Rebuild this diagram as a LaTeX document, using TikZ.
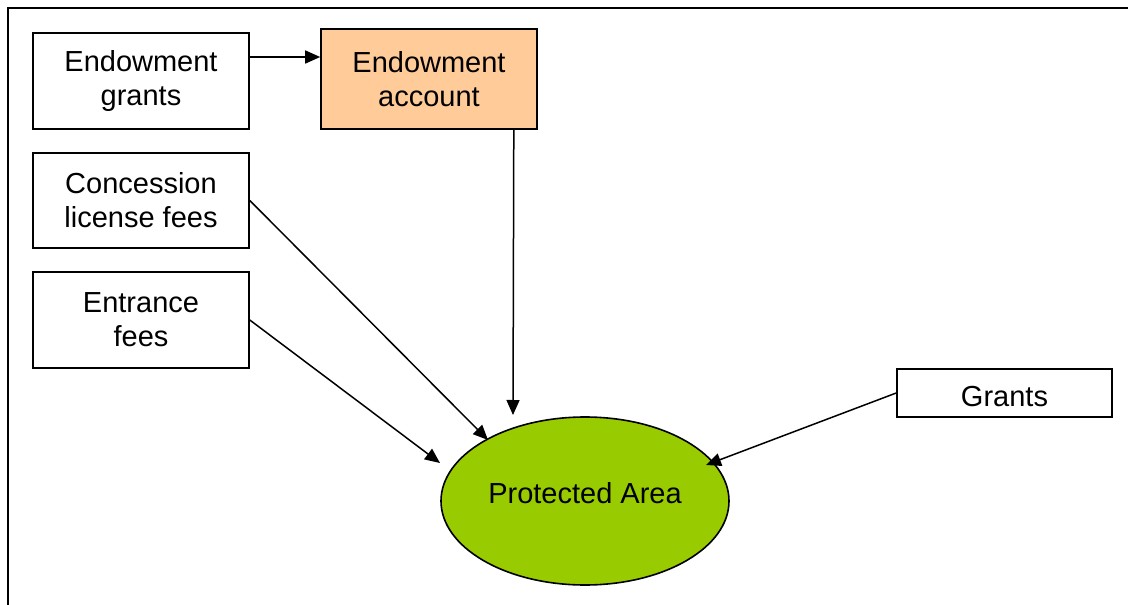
\documentclass[tikz,border=0pt]{standalone}
\usepackage{fontspec}
\setmainfont{Liberation Sans}
\usetikzlibrary{arrows.meta,shapes.geometric}
\begin{document}
\begin{tikzpicture}[x=1pt,y=-1pt,
  every node/.style={font=\fontsize{29}{34}\selectfont, align=center},
  srcbox/.style={draw=black, line width=1.6pt, fill=white, inner sep=0pt,
                 minimum width=216pt, minimum height=96pt},
  accbox/.style={srcbox, fill=accfill, minimum height=100pt},
  areanode/.style={ellipse, draw=black, line width=1.6pt, fill=areafill,
                   inner sep=0pt, minimum width=288pt, minimum height=168pt},
  arr/.style={line width=1.5pt, -{Triangle[length=15pt,width=13pt]}},
  frame/.style={line width=2.6pt}]
  \definecolor{accfill}{HTML}{FFCC99}
  \definecolor{areafill}{HTML}{99CC00}
  \useasboundingbox (0,0) rectangle (1128,605);
  % outer frame: top and left edges
  \draw[frame] (8,605) -- (8,8) -- (1128,8);

  % sources
  \node[srcbox] (eg)   at (141,81)  {Endowment\\grants};
  \node[accbox] (acc)  at (429,79)  {Endowment\\account};
  \node[srcbox, minimum height=95pt] (conc) at (141,200.5) {Concession\\license fees};
  \node[srcbox] (ent)  at (141,320) {Entrance\\fees};
  \node[srcbox, minimum width=215pt, minimum height=48pt,
        label={[yshift=-4pt]center:Grants}] (gr) at (1004.5,393) {};

  % recipient
  \node[areanode, label={[yshift=8pt]center:Protected Area}] (pa) at (585,501) {};

  % flows
  \draw[arr] ([yshift=24pt]eg.east) -- ([yshift=24pt]eg.east -| acc.west);
  \draw[arr] ([xshift=-24pt]acc.south east) -- ([xshift=-72pt,yshift=86pt]pa.center);
  \draw[arr] (conc.east) -- ([xshift=-97pt,yshift=61pt]pa.center);
  \draw[arr] (ent.east) -- ([xshift=-145pt,yshift=38pt]pa.center);
  \draw[arr] (gr.west) -- ([xshift=121pt,yshift=36pt]pa.center);
\end{tikzpicture}
\end{document}
